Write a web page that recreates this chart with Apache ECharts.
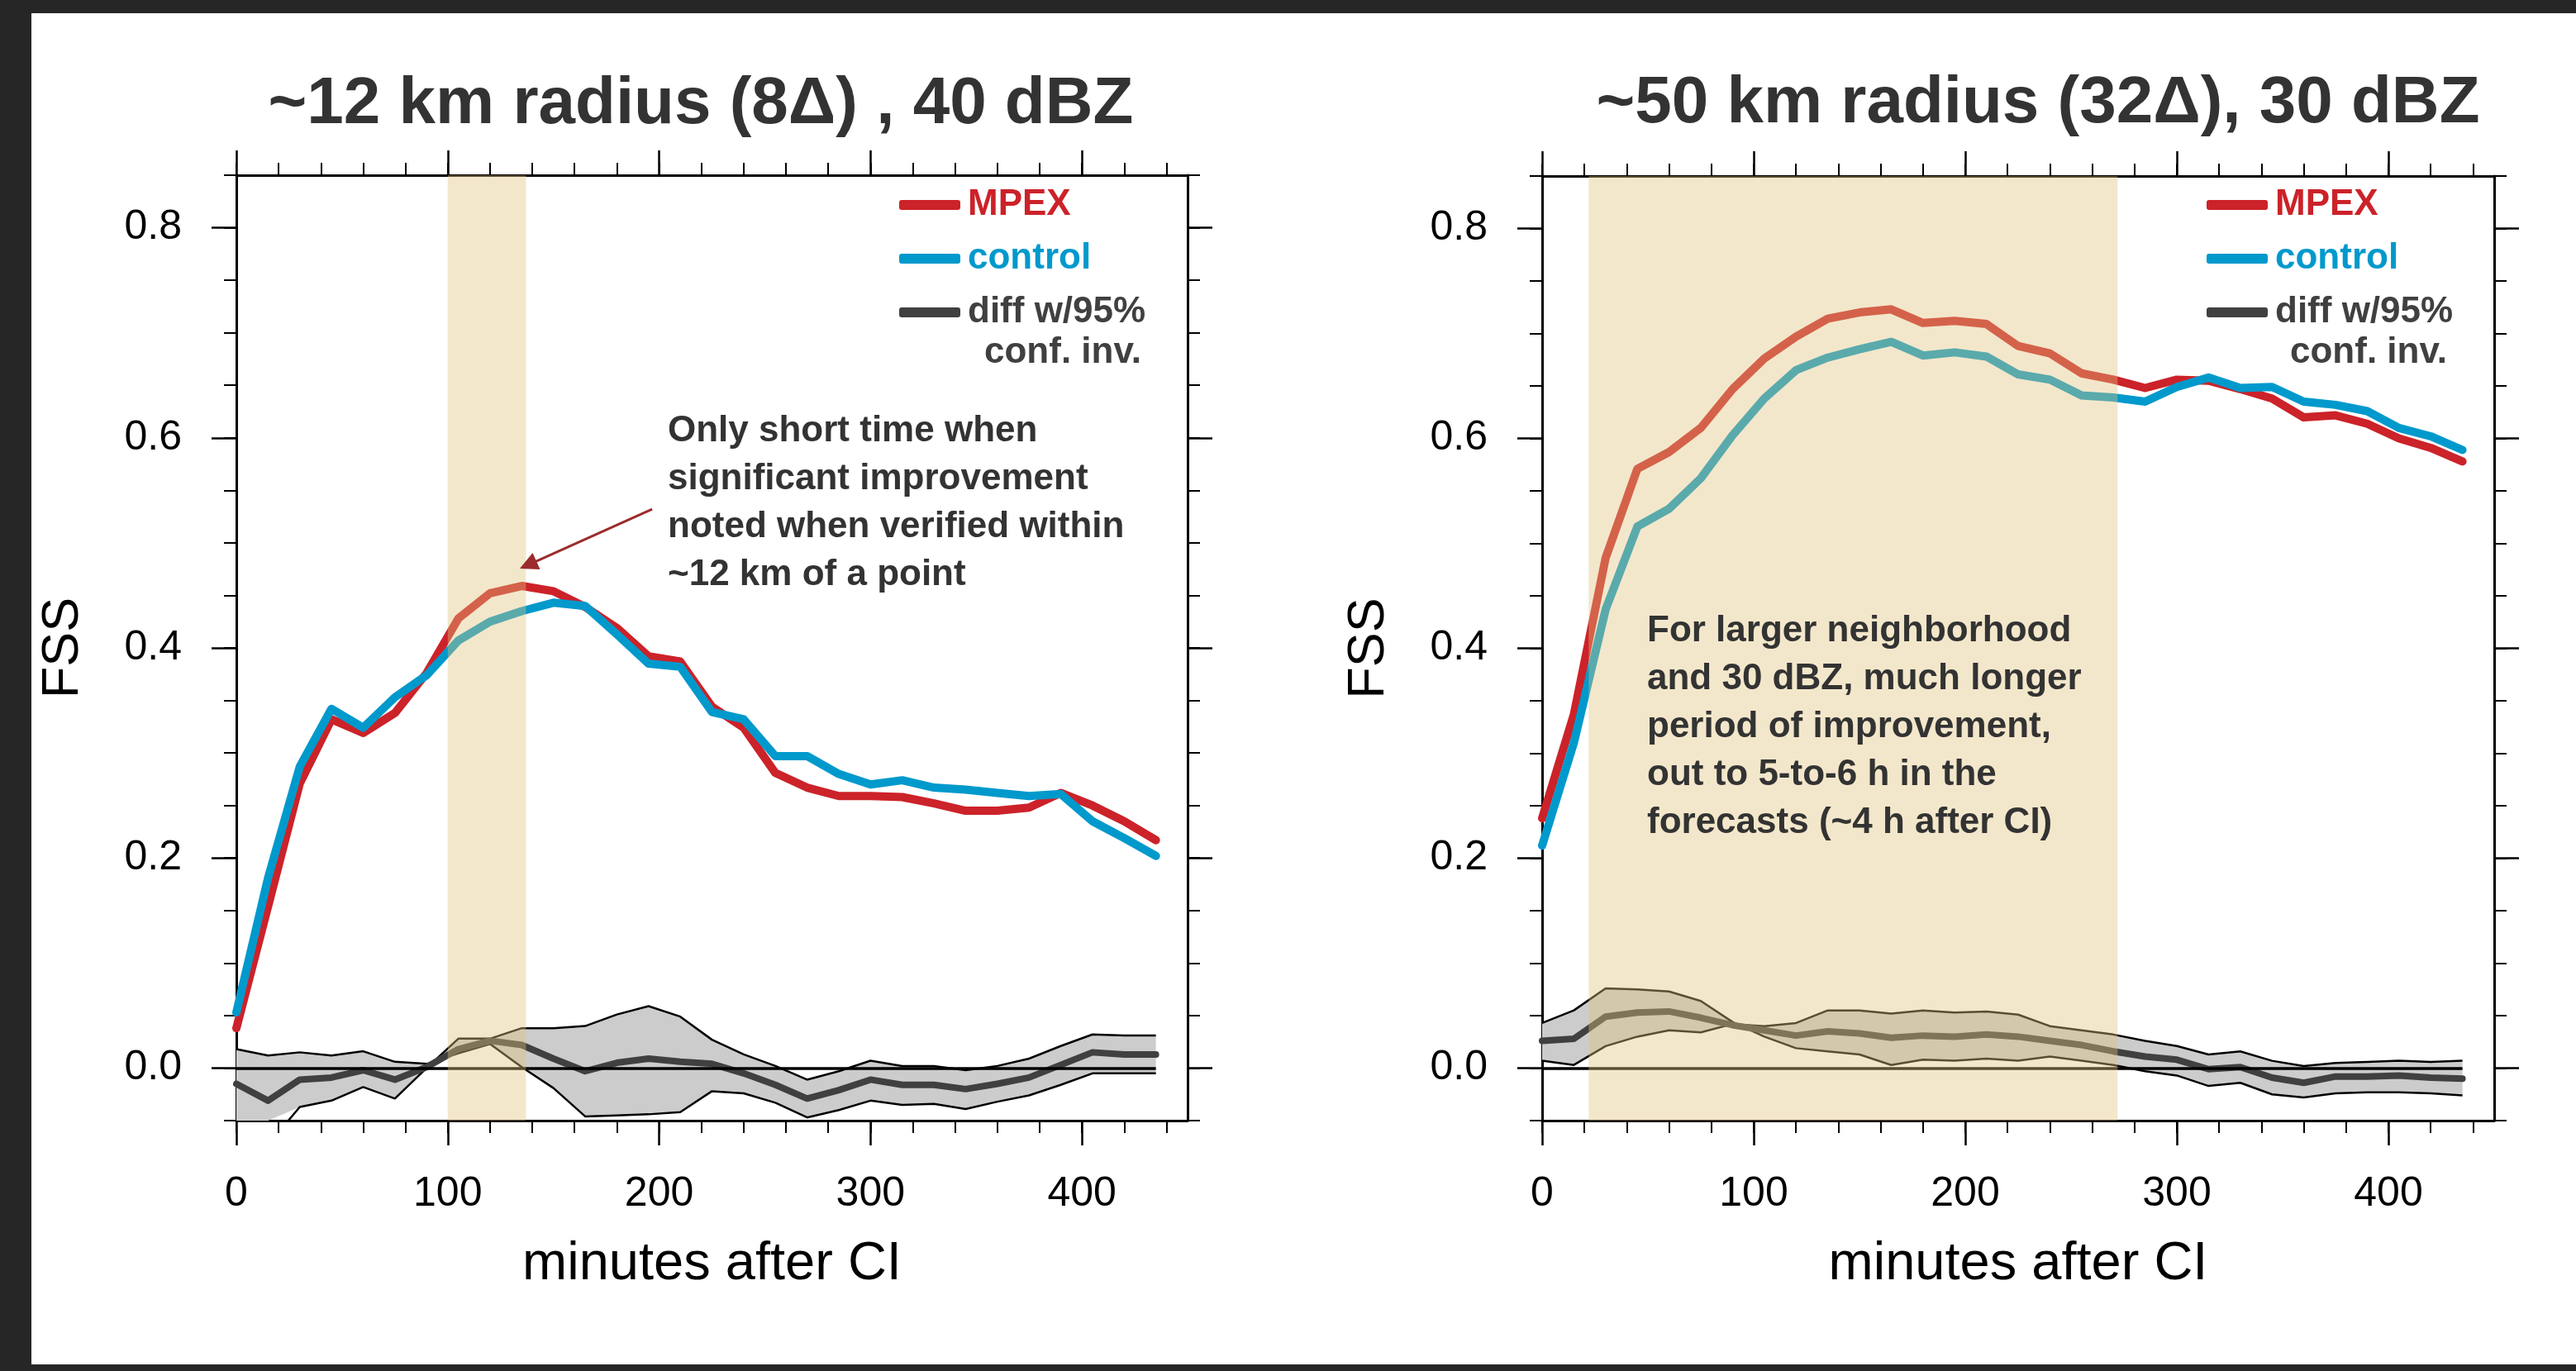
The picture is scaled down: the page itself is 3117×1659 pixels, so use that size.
<!DOCTYPE html>
<html>
<head>
<meta charset="utf-8">
<script src="https://cdn.jsdelivr.net/npm/echarts@6/dist/echarts.min.js"></script>
<style>
html,body{margin:0;padding:0;background:#262626;width:3117px;height:1659px;overflow:hidden;}
#panel{position:absolute;left:38px;top:16px;width:3079px;height:1635px;background:#fff;}
#chart{position:absolute;left:0;top:0;width:3117px;height:1659px;}
</style>
</head>
<body>
<div id="panel"></div>
<div id="chart"></div>
<script>
// ---------- data ----------
const MINUTES = [0,15,30,45,60,75,90,105,120,135,150,165,180,195,210,225,240,255,270,285,300,315,330,345,360,375,390,405,420,435];

// panel 1: ~12 km radius, 40 dBZ
const MPEX_12    = [0.038,0.154,0.271,0.332,0.319,0.338,0.376,0.428,0.452,0.459,0.454,0.439,0.419,0.392,0.387,0.344,0.324,0.281,0.267,0.259,0.259,0.258,0.252,0.245,0.245,0.248,0.262,0.250,0.235,0.217];
const CONTROL_12 = [0.053,0.181,0.287,0.342,0.324,0.353,0.374,0.407,0.425,0.435,0.443,0.440,0.413,0.385,0.382,0.339,0.332,0.297,0.297,0.280,0.270,0.274,0.267,0.265,0.262,0.259,0.261,0.235,0.219,0.202];
const DIFF_12    = [-0.015,-0.031,-0.011,-0.009,-0.002,-0.011,0.001,0.018,0.026,0.022,0.009,-0.003,0.005,0.009,0.006,0.004,-0.005,-0.016,-0.029,-0.021,-0.011,-0.016,-0.016,-0.020,-0.015,-0.009,0.003,0.015,0.013,0.013];
const CI_A_12    = [0.018,0.012,0.015,0.012,0.016,0.006,0.004,0.014,0.023,0.001,-0.019,-0.046,-0.045,-0.044,-0.042,-0.022,-0.024,-0.033,-0.047,-0.040,-0.031,-0.035,-0.034,-0.039,-0.032,-0.026,-0.016,-0.005,-0.005,-0.005];
const CI_B_12    = [-0.062,-0.073,-0.037,-0.031,-0.018,-0.029,0.000,0.028,0.028,0.038,0.038,0.040,0.051,0.059,0.049,0.027,0.013,0.002,-0.011,-0.003,0.007,0.002,0.002,-0.002,0.002,0.009,0.021,0.032,0.031,0.031];

// panel 2: ~50 km radius, 30 dBZ
const MPEX_50    = [0.238,0.337,0.486,0.571,0.587,0.610,0.647,0.676,0.697,0.714,0.720,0.723,0.710,0.712,0.709,0.688,0.681,0.662,0.656,0.648,0.656,0.655,0.647,0.638,0.620,0.622,0.614,0.600,0.591,0.578];
const CONTROL_50 = [0.212,0.310,0.437,0.516,0.533,0.562,0.603,0.638,0.665,0.677,0.685,0.692,0.679,0.682,0.678,0.661,0.656,0.641,0.639,0.635,0.649,0.658,0.648,0.649,0.635,0.632,0.626,0.610,0.602,0.589];
const DIFF_50    = [0.026,0.028,0.049,0.053,0.054,0.048,0.041,0.036,0.031,0.035,0.033,0.029,0.031,0.030,0.032,0.030,0.026,0.022,0.016,0.011,0.008,-0.001,0.001,-0.009,-0.014,-0.008,-0.008,-0.007,-0.009,-0.010];
const CI_A_50    = [0.043,0.055,0.076,0.075,0.073,0.064,0.044,0.030,0.019,0.016,0.013,0.003,0.008,0.007,0.009,0.007,0.011,0.007,0.003,-0.003,-0.007,-0.017,-0.014,-0.025,-0.028,-0.024,-0.023,-0.023,-0.024,-0.026];
const CI_B_50    = [0.007,0.003,0.021,0.030,0.036,0.034,0.042,0.040,0.043,0.055,0.055,0.052,0.055,0.053,0.054,0.051,0.040,0.036,0.032,0.026,0.021,0.013,0.016,0.007,0.002,0.005,0.006,0.007,0.006,0.007];

// shaded periods (minutes)
const SHADE_12 = [100, 137];
const SHADE_50 = [22, 272];
// zero reference line extent (minutes)
const ZERO_SPAN = [0, 435];
// annotation arrow (minutes, FSS)
const ARROW_FROM = [196.7, 0.532];
const ARROW_TO   = [138.0, 0.479];

// ticks
const X_MAJOR = [0,100,200,300,400];
const X_MINOR = [0,20,40,60,80,100,120,140,160,180,200,220,240,260,280,300,320,340,360,380,400,420,440];
const Y_MAJOR = [0,0.2,0.4,0.6,0.8];
const Y_MINOR = [-0.05,0,0.05,0.1,0.15,0.2,0.25,0.3,0.35,0.4,0.45,0.5,0.55,0.6,0.65,0.7,0.75,0.8,0.85];

const TITLES = ['~12 km radius (8\u0394) , 40 dBZ', '~50 km radius (32\u0394), 30 dBZ'];
const NOTE_12 = 'Only short time when\nsignificant improvement\nnoted when verified within\n~12 km of a point';
const NOTE_50 = 'For larger neighborhood\nand 30 dBZ, much longer\nperiod of improvement,\nout to 5-to-6 h in the\nforecasts (~4 h after CI)';

// ---------- styling ----------
const FONT = "'Liberation Sans', Arial, Helvetica, sans-serif";
const RED = '#cc2229', BLUE = '#0099cc', DARK = '#404040', TXT = '#333333';
const SHADE_COLOR = 'rgba(225,195,125,0.4)';

const GRIDS = [
  {left: 286, top: 212, width: 1151, height: 1144},
  {left: 1866, top: 213, width: 1152, height: 1143}
];

const zip = (xs, ys) => xs.map((x, i) => [x, ys[i]]);

function makeXAxes(g) {
  const base = {type: 'value', gridIndex: g, min: 0, max: 450, splitLine: {show: false}, axisPointer: {show: false}};
  const lineOn = {show: true, onZero: false, lineStyle: {color: '#000', width: 3}};
  const lineOff = {show: false, onZero: false};
  return [
    Object.assign({}, base, {
      position: 'bottom', axisLine: lineOn,
      axisTick: {show: true, inside: false, length: 30, customValues: X_MAJOR, lineStyle: {color: '#000', width: 2.5}},
      axisLabel: {show: true, customValues: X_MAJOR, margin: 64, fontSize: 50, color: '#000', fontFamily: FONT},
      name: 'minutes after CI', nameLocation: 'middle', nameGap: 142,
      nameTextStyle: {fontSize: 65, color: '#000', fontFamily: FONT}
    }),
    Object.assign({}, base, {
      position: 'bottom', axisLine: lineOff,
      axisTick: {show: true, inside: false, length: 15, customValues: X_MINOR, lineStyle: {color: '#000', width: 2}},
      axisLabel: {show: false}
    }),
    Object.assign({}, base, {
      position: 'top', axisLine: lineOn,
      axisTick: {show: true, inside: false, length: 30, customValues: X_MAJOR, lineStyle: {color: '#000', width: 2.5}},
      axisLabel: {show: false}
    }),
    Object.assign({}, base, {
      position: 'top', axisLine: lineOff,
      axisTick: {show: true, inside: false, length: 15, customValues: X_MINOR, lineStyle: {color: '#000', width: 2}},
      axisLabel: {show: false}
    })
  ];
}

function makeYAxes(g) {
  const base = {type: 'value', gridIndex: g, min: -0.05, max: 0.85, splitLine: {show: false}, axisPointer: {show: false}};
  const lineOn = {show: true, onZero: false, lineStyle: {color: '#000', width: 3}};
  const lineOff = {show: false, onZero: false};
  return [
    Object.assign({}, base, {
      position: 'left', axisLine: lineOn,
      axisTick: {show: true, inside: false, length: 30, customValues: Y_MAJOR, lineStyle: {color: '#000', width: 2.5}},
      axisLabel: {show: true, customValues: Y_MAJOR, margin: 66, fontSize: 50, color: '#000', fontFamily: FONT,
                  formatter: v => Number(v).toFixed(1)},
      name: 'FSS', nameLocation: 'middle', nameGap: 178,
      nameTextStyle: {fontSize: 63, color: '#000', fontFamily: FONT}
    }),
    Object.assign({}, base, {
      position: 'left', axisLine: lineOff,
      axisTick: {show: true, inside: false, length: 15, customValues: Y_MINOR, lineStyle: {color: '#000', width: 2}},
      axisLabel: {show: false}
    }),
    Object.assign({}, base, {
      position: 'right', axisLine: lineOn,
      axisTick: {show: true, inside: false, length: 30, customValues: Y_MAJOR, lineStyle: {color: '#000', width: 2.5}},
      axisLabel: {show: false}
    }),
    Object.assign({}, base, {
      position: 'right', axisLine: lineOff,
      axisTick: {show: true, inside: false, length: 15, customValues: Y_MINOR, lineStyle: {color: '#000', width: 2}},
      axisLabel: {show: false}
    })
  ];
}

// confidence band drawn as one polygon between the two bound lines
function bandRenderItem(params, api) {
  if (params.dataIndexInside !== 0) return null;
  const n = params.dataInsideLength;
  const pts = [];
  for (let i = 0; i < n; i++) pts.push(api.coord([api.value(0, i), api.value(1, i)]));
  for (let i = n - 1; i >= 0; i--) pts.push(api.coord([api.value(0, i), api.value(2, i)]));
  const cs = params.coordSys;
  const clipped = echarts.graphic.clipPointsByRect(pts, {x: cs.x, y: cs.y, width: cs.width, height: cs.height});
  return {type: 'polygon', silent: true, shape: {points: clipped}, style: {fill: '#cccccc', stroke: 'none'}};
}

function makeSeries(g, d) {
  const ax = {xAxisIndex: g * 4, yAxisIndex: g * 4};
  const common = Object.assign({type: 'line', symbol: 'none', showSymbol: false, silent: true, animation: false, clip: true}, ax);
  const out = [
    Object.assign({type: 'custom', name: 'ciBand' + g, silent: true, animation: false, z: 2,
      renderItem: bandRenderItem,
      encode: {x: 0, y: [1, 2]},
      data: MINUTES.map((x, i) => [x, d.ciA[i], d.ciB[i]])}, ax),
    Object.assign({}, common, {name: 'ciA' + g, data: zip(MINUTES, d.ciA),
      lineStyle: {color: '#000', width: 2.5}, itemStyle: {color: '#000'}, z: 3}),
    Object.assign({}, common, {name: 'ciB' + g, data: zip(MINUTES, d.ciB),
      lineStyle: {color: '#000', width: 2.5}, itemStyle: {color: '#000'}, z: 3}),
    Object.assign({}, common, {name: 'diff w/95%', data: zip(MINUTES, d.diff),
      lineStyle: {color: DARK, width: 8, cap: 'round', join: 'round'}, itemStyle: {color: DARK}, z: 4}),
    Object.assign({}, common, {name: 'zero' + g, data: [],
      markLine: {silent: true, z: 5, symbol: ['none', 'none'], label: {show: false},
        lineStyle: {color: '#000', width: 3.5, type: 'solid'},
        data: [[{coord: [ZERO_SPAN[0], 0]}, {coord: [ZERO_SPAN[1], 0]}]]}, z: 5}),
    Object.assign({}, common, {name: 'MPEX', data: zip(MINUTES, d.mpex),
      lineStyle: {color: RED, width: 10, cap: 'round', join: 'round'}, itemStyle: {color: RED}, z: 6}),
    Object.assign({}, common, {name: 'control', data: zip(MINUTES, d.control),
      lineStyle: {color: BLUE, width: 10, cap: 'round', join: 'round'}, itemStyle: {color: BLUE}, z: 7}),
    Object.assign({}, common, {name: 'shade' + g, data: [],
      markArea: {silent: true, z: 20, itemStyle: {color: SHADE_COLOR},
        data: [[{xAxis: d.shade[0]}, {xAxis: d.shade[1]}]]}, z: 20})
  ];
  if (d.arrow) {
    out.push(Object.assign({}, common, {name: 'arrow' + g, data: [],
      markLine: {silent: true, z: 25, symbol: ['none', 'triangle'], symbolSize: 22, label: {show: false},
        lineStyle: {color: '#9b2c2c', width: 3, type: 'solid'}, itemStyle: {color: '#9b2c2c'},
        data: [[{coord: d.arrow[0]}, {coord: d.arrow[1]}]]}, z: 25}));
  }
  return out;
}

function makeLegend(left) {
  return {
    orient: 'vertical', left: left, top: 226, padding: 0, itemGap: 21,
    itemWidth: 74, itemHeight: 12, icon: 'roundRect', selectedMode: false,
    textStyle: {fontSize: 44, fontWeight: 'bold', fontFamily: FONT, lineHeight: 44, padding: [0, 0, 0, 4]},
    data: [
      {name: 'MPEX', textStyle: {color: RED}},
      {name: 'control', textStyle: {color: BLUE}},
      {name: 'diff w/95%', textStyle: {color: DARK}}
    ]
  };
}

function gText(x, y, text, extra) {
  return {type: 'text', x: x, y: y, z: 100, silent: true,
    style: Object.assign({text: text, fill: TXT, font: 'bold 44px ' + FONT, fontSize: 44, fontWeight: 'bold', fontFamily: FONT}, extra || {})};
}

const chart = echarts.init(document.getElementById('chart'), null, {renderer: 'canvas'});
const option = {
  animation: false,
  backgroundColor: 'transparent',
  title: [
    {text: TITLES[0], left: 848, top: 87, textAlign: 'center', padding: 0,
     textStyle: {fontSize: 80, fontWeight: 'bold', color: TXT, fontFamily: FONT, lineHeight: 80}},
    {text: TITLES[1], left: 2466, top: 86, textAlign: 'center', padding: 0,
     textStyle: {fontSize: 80, fontWeight: 'bold', color: TXT, fontFamily: FONT, lineHeight: 80}}
  ],
  grid: GRIDS.map(g => Object.assign({containLabel: false, outerBoundsMode: 'none', show: false}, g)),
  xAxis: makeXAxes(0).concat(makeXAxes(1)),
  yAxis: makeYAxes(0).concat(makeYAxes(1)),
  legend: [makeLegend(1088), makeLegend(2670)],
  series: makeSeries(0, {mpex: MPEX_12, control: CONTROL_12, diff: DIFF_12, ciA: CI_A_12, ciB: CI_B_12, shade: SHADE_12, arrow: [ARROW_FROM, ARROW_TO]})
    .concat(makeSeries(1, {mpex: MPEX_50, control: CONTROL_50, diff: DIFF_50, ciA: CI_A_50, ciB: CI_B_50, shade: SHADE_50})),
  graphic: [
    gText(1191, 427, 'conf. inv.', {fill: DARK, verticalAlign: 'middle'}),
    gText(2771, 427, 'conf. inv.', {fill: DARK, verticalAlign: 'middle'}),
    gText(808, 493, NOTE_12, {lineHeight: 58, verticalAlign: 'top'}),
    gText(1993, 735, NOTE_50, {lineHeight: 58, verticalAlign: 'top'})
  ]
};
chart.setOption(option);
</script>
</body>
</html>
